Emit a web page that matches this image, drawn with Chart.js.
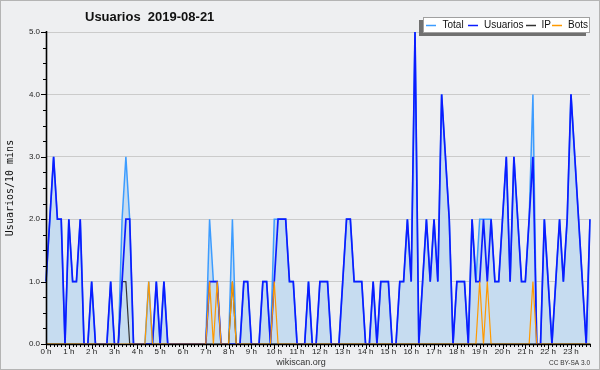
<!DOCTYPE html>
<html>
<head>
<meta charset="utf-8">
<script src="https://cdn.jsdelivr.net/npm/chart.js@4.4.1/dist/chart.umd.min.js"></script>
<style>
  html, body { margin: 0; padding: 0; background: #eeeff1; }
</style>
</head>
<body>
<canvas id="chart" width="600" height="370"></canvas>
<script>
// one value every 10 minutes, 144 slots for the day
const slots = [];
for (let h = 0; h < 24; h++) {
  for (let m = 0; m < 60; m += 10) slots.push(h + ':' + String(m).padStart(2, '0'));
}

const hourLabels = ['0 h', '1 h', '2 h', '3 h', '4 h', '5 h', '6 h', '7 h', '8 h', '9 h', '10 h', '11 h',
  '12 h', '13 h', '14 h', '15 h', '16 h', '17 h', '18 h', '19 h', '20 h', '21 h', '22 h', '23 h'];

const usuarios = [
  1, 2, 3, 2, 2, 0, 2, 1, 1, 2,  0, 0, 1, 0, 0, 0, 0, 1, 0, 0,
  1, 2, 2, 0, 0, 0, 0, 0, 0, 1,  0, 1, 0, 0, 0, 0, 0, 0, 0, 0,
  0, 0, 0, 1, 1, 1, 0, 0, 0, 0,  0, 0, 1, 1, 0, 0, 0, 1, 1, 0,
  1, 2, 2, 2, 1, 1, 0, 0, 0, 1,  0, 0, 1, 1, 1, 0, 0, 0, 1, 2,
  2, 1, 1, 1, 0, 0, 1, 0, 1, 1,  1, 0, 0, 1, 1, 2, 1, 5, 0, 1,
  2, 1, 2, 1, 4, 3, 2, 0, 1, 1,  1, 0, 2, 1, 1, 2, 1, 2, 1, 1,
  2, 3, 1, 3, 2, 1, 1, 2, 3, 0,  0, 2, 1, 0, 1, 2, 1, 2, 4, 3,
  2, 1, 0, 2
];

const total = [
  1, 2, 3, 2, 2, 0, 2, 1, 1, 2,  0, 0, 1, 0, 0, 0, 0, 1, 0, 0,
  2, 3, 2, 0, 0, 0, 0, 1, 0, 1,  0, 1, 0, 0, 0, 0, 0, 0, 0, 0,
  0, 0, 0, 2, 1, 1, 0, 0, 0, 2,  0, 0, 1, 1, 0, 0, 0, 1, 1, 0,
  2, 2, 2, 2, 1, 1, 0, 0, 0, 1,  0, 0, 1, 1, 1, 0, 0, 0, 1, 2,
  2, 1, 1, 1, 0, 0, 1, 0, 1, 1,  1, 0, 0, 1, 1, 2, 1, 5, 0, 1,
  2, 1, 2, 1, 4, 3, 2, 0, 1, 1,  1, 0, 2, 1, 2, 2, 2, 2, 1, 1,
  2, 3, 1, 3, 2, 1, 1, 2, 4, 0,  0, 2, 1, 0, 1, 2, 1, 2, 4, 3,
  2, 1, 0, 2
];

const ip = [
  0, 0, 0, 0, 0, 0, 0, 0, 0, 0,  0, 0, 0, 0, 0, 0, 0, 0, 0, 0,
  1, 1, 0, 0, 0, 0, 0, 0, 0, 0,  0, 0, 0, 0, 0, 0, 0, 0, 0, 0,
  0, 0, 0, 0, 0, 0, 0, 0, 0, 1,  0, 0, 0, 0, 0, 0, 0, 0, 0, 0,
  0, 0, 0, 0, 0, 0, 0, 0, 0, 0,  0, 0, 0, 0, 0, 0, 0, 0, 0, 0,
  0, 0, 0, 0, 0, 0, 0, 0, 0, 0,  0, 0, 0, 0, 0, 0, 0, 0, 0, 0,
  0, 0, 0, 0, 0, 0, 0, 0, 0, 0,  0, 0, 0, 0, 0, 0, 0, 0, 0, 0,
  0, 0, 0, 0, 0, 0, 0, 0, 0, 0,  0, 0, 0, 0, 0, 0, 0, 0, 0, 0,
  0, 0, 0, 0
];

const bots = [
  0, 0, 0, 0, 0, 0, 0, 0, 0, 0,  0, 0, 0, 0, 0, 0, 0, 0, 0, 0,
  0, 0, 0, 0, 0, 0, 0, 1, 0, 0,  0, 0, 0, 0, 0, 0, 0, 0, 0, 0,
  0, 0, 0, 1, 0, 1, 0, 0, 0, 1,  0, 0, 0, 0, 0, 0, 0, 0, 0, 0,
  1, 0, 0, 0, 0, 0, 0, 0, 0, 0,  0, 0, 0, 0, 0, 0, 0, 0, 0, 0,
  0, 0, 0, 0, 0, 0, 0, 0, 0, 0,  0, 0, 0, 0, 0, 0, 0, 0, 0, 0,
  0, 0, 0, 0, 0, 0, 0, 0, 0, 0,  0, 0, 0, 0, 1, 0, 1, 0, 0, 0,
  0, 0, 0, 0, 0, 0, 0, 0, 1, 0,  0, 0, 0, 0, 0, 0, 0, 0, 0, 0,
  0, 0, 0, 0
];

const SANS = '"Liberation Sans", Arial, sans-serif';

// legend sample and text start positions, same order as the datasets
const legendLineX = [426, 468, 526, 552];
const legendTextX = [442.5, 484, 541.5, 568];

// background, axes with minor ticks, title, legend box and footer
const decor = {
  id: 'decor',
  beforeDraw(chart) {
    const { ctx, width, height } = chart;
    ctx.save();
    ctx.fillStyle = '#eeeff1';
    ctx.fillRect(0, 0, width, height);
    ctx.strokeStyle = '#b4b4b4';
    ctx.lineWidth = 1;
    ctx.strokeRect(0.5, 0.5, width - 1, height - 1);
    ctx.restore();
  },
  afterDraw(chart) {
    const { ctx, chartArea } = chart;
    const xs = chart.scales.x, ys = chart.scales.y;
    const { left, right, top, bottom } = chartArea;
    ctx.save();

    ctx.strokeStyle = '#000';
    ctx.lineWidth = 1;
    ctx.beginPath();
    for (let v = 0; v <= 5.0001; v += 0.25) {
      const y = Math.round(ys.getPixelForValue(v)) + 0.5;
      const len = Math.abs(v - Math.round(v)) < 0.01 ? 5 : 3;
      ctx.moveTo(left - len, y);
      ctx.lineTo(left, y);
    }
    for (let i = 0; i < slots.length; i++) {
      const x = Math.round(xs.getPixelForValue(i)) + 0.5;
      const len = i % 6 === 0 ? 5 : 3;
      ctx.moveTo(x, bottom);
      ctx.lineTo(x, bottom + len);
    }
    ctx.stroke();

    ctx.lineWidth = 1.6;
    ctx.beginPath();
    ctx.moveTo(left + 0.5, top - 1);
    ctx.lineTo(left + 0.5, bottom + 1);
    ctx.moveTo(left, bottom + 0.5);
    ctx.lineTo(right + 1, bottom + 0.5);
    ctx.stroke();

    // title
    ctx.fillStyle = '#111';
    ctx.font = 'bold 13px ' + SANS;
    ctx.textAlign = 'left';
    ctx.textBaseline = 'alphabetic';
    ctx.fillText('Usuarios  2019-08-21', 85, 21);

    // footer
    ctx.fillStyle = '#333';
    ctx.font = '9px ' + SANS;
    ctx.textAlign = 'center';
    ctx.fillText('wikiscan.org', 301, 365);
    ctx.font = '6.5px ' + SANS;
    ctx.textAlign = 'right';
    ctx.fillText('CC BY-SA 3.0', 590, 365);

    // legend
    const bx = 423, by = 17, bw = 167, bh = 16;
    ctx.fillStyle = '#707070';
    ctx.fillRect(bx - 4, by + 3, bw, bh);
    ctx.fillStyle = '#fff';
    ctx.fillRect(bx, by, bw, bh);
    ctx.strokeStyle = '#a0a0a0';
    ctx.lineWidth = 1;
    ctx.strokeRect(bx + 0.5, by + 0.5, bw - 1, bh - 1);
    ctx.font = '10px ' + SANS;
    ctx.textAlign = 'left';
    ctx.textBaseline = 'middle';
    const ly = by + bh / 2 + 0.5;
    chart.data.datasets.forEach((ds, k) => {
      ctx.strokeStyle = ds.borderColor;
      ctx.lineWidth = 1.5;
      ctx.beginPath();
      ctx.moveTo(legendLineX[k], ly);
      ctx.lineTo(legendLineX[k] + 10, ly);
      ctx.stroke();
      ctx.fillStyle = '#111';
      ctx.fillText(ds.label, legendTextX[k], ly);
    });

    ctx.restore();
  }
};

new Chart(document.getElementById('chart'), {
  type: 'line',
  data: {
    labels: slots,
    datasets: [
      {
        label: 'Total',
        data: total,
        borderColor: '#3c9cff',
        backgroundColor: '#c6dcf0',
        fill: 'origin',
        borderWidth: 1.5,
        order: 4
      },
      {
        label: 'Usuarios',
        data: usuarios,
        borderColor: '#0b1cff',
        borderWidth: 1.7,
        fill: false,
        order: 2
      },
      {
        label: 'IP',
        data: ip,
        borderColor: '#333333',
        borderWidth: 1.2,
        fill: false,
        order: 3
      },
      {
        label: 'Bots',
        data: bots,
        borderColor: '#ff9a00',
        borderWidth: 1.2,
        fill: false,
        order: 1
      }
    ]
  },
  options: {
    responsive: false,
    animation: false,
    layout: { padding: { top: 32, right: 10, bottom: 0, left: 0 } },
    elements: { point: { radius: 0 }, line: { tension: 0 } },
    plugins: { legend: { display: false }, tooltip: { enabled: false } },
    scales: {
      x: {
        type: 'category',
        offset: false,
        grid: { display: false, drawTicks: false },
        border: { display: false },
        ticks: {
          autoSkip: false,
          maxRotation: 0,
          minRotation: 0,
          padding: 3,
          color: '#222',
          font: { family: SANS, size: 8 },
          callback: (v, i) => (i % 6 === 0 ? hourLabels[i / 6] : '')
        },
        afterFit: s => { s.height = 26; }
      },
      y: {
        min: 0,
        max: 5,
        grid: {
          drawTicks: false,
          color: c => (c.tick && Number.isInteger(c.tick.value) && c.tick.value > 0 ? '#cbcbcb' : 'rgba(0,0,0,0)')
        },
        border: { display: false },
        ticks: {
          stepSize: 0.25,
          padding: 6,
          color: '#222',
          font: { family: SANS, size: 8 },
          callback: v => (Number.isInteger(v) ? v.toFixed(1) : '')
        },
        title: {
          display: true,
          text: 'Usuarios/10 mins',
          color: '#111',
          font: { family: '"DejaVu Sans Mono", monospace', size: 10 },
          padding: { top: 4, bottom: 0 }
        },
        afterFit: s => { s.width = 46; }
      }
    }
  },
  plugins: [decor]
});
</script>
</body>
</html>
